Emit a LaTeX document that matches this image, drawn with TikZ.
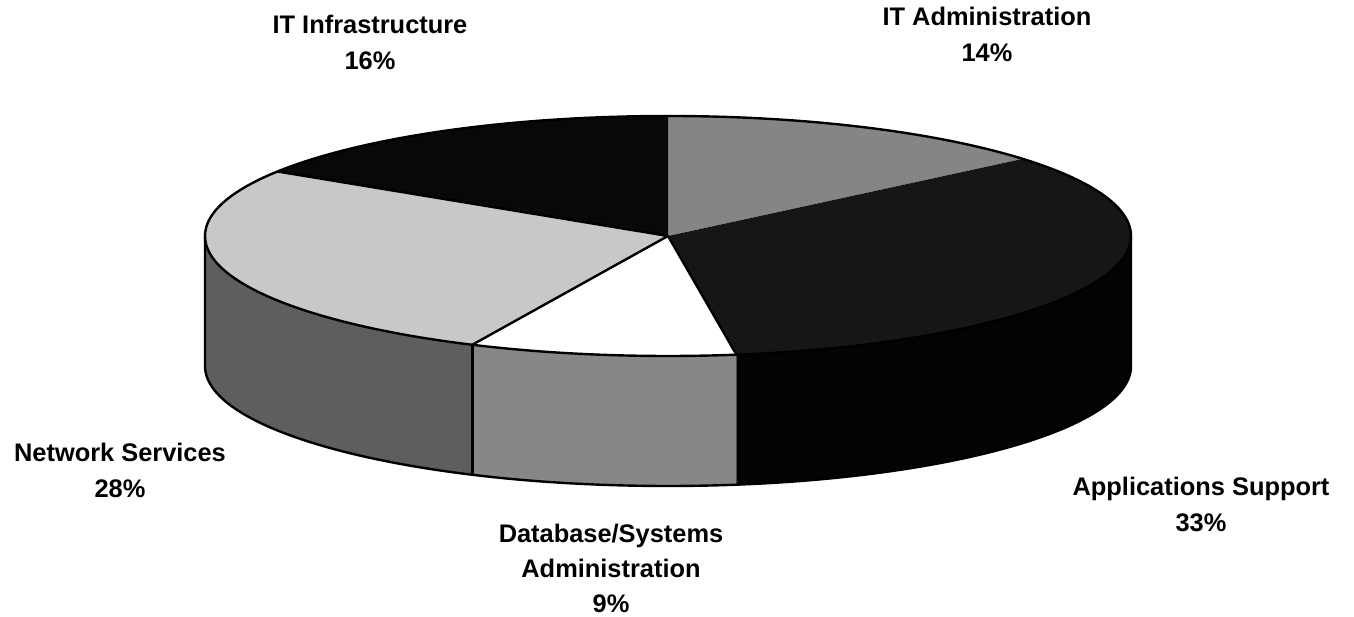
\documentclass[tikz,border=0pt]{standalone}
\usepackage{fontspec}
\setmainfont{Liberation Sans}
\definecolor{adminTop}{HTML}{858585}
\definecolor{appsTop}{HTML}{161616}
\definecolor{appsSide}{HTML}{030303}
\definecolor{dbTop}{HTML}{FFFFFF}
\definecolor{dbSide}{HTML}{878787}
\definecolor{netTop}{HTML}{C8C8C8}
\definecolor{netSide}{HTML}{5E5E5E}
\definecolor{infraTop}{HTML}{080808}
\newcommand\pcx{668}
\newcommand\pcy{381}
\newcommand\pra{463}
\newcommand\prb{120}
\newcommand\pdh{130}
\newcommand\pieside[3]{%
  \fill[#3] ({\pcx+\pra*cos(#1)},{\pcy+\prb*sin(#1)})
    arc[start angle=#1,end angle=#2,x radius=\pra,y radius=\prb]
    -- ++(0,-\pdh)
    arc[start angle=#2,end angle=#1,x radius=\pra,y radius=\prb] -- cycle;}
\newcommand\pietop[3]{%
  \fill[#3] (\pcx,\pcy) -- ({\pcx+\pra*cos(#1)},{\pcy+\prb*sin(#1)})
    arc[start angle=#1,end angle=#2,x radius=\pra,y radius=\prb] -- cycle;}
\begin{document}
\begin{tikzpicture}[x=1pt,y=1pt,
  lbl/.style={font=\fontsize{25.4}{36}\selectfont\bfseries, align=center, inner sep=0pt, anchor=north},
  edge/.style={draw=black, line width=2.4pt, line join=round}]
\useasboundingbox (0,0) rectangle (1354,617);
% side faces
\pieside{-180}{-115}{netSide}
\pieside{-115}{-81.5}{dbSide}
\pieside{-81.5}{0}{appsSide}
% top faces
\pietop{40}{90}{adminTop}
\pietop{-81.5}{40}{appsTop}
\pietop{-115}{-81.5}{dbTop}
\pietop{-212.5}{-115}{netTop}
\pietop{90}{147.5}{infraTop}
% outlines
\draw[edge] (\pcx,\pcy) ellipse[x radius=\pra,y radius=\prb];
\draw[edge] ({\pcx-\pra},\pcy) -- ++(0,-\pdh)
  arc[start angle=180,end angle=360,x radius=\pra,y radius=\prb] -- ++(0,\pdh);
\draw[edge] ({\pcx+\pra*cos(-115)},{\pcy+\prb*sin(-115)}) -- ++(0,-\pdh);
\draw[edge] ({\pcx+\pra*cos(-115)},{\pcy+\prb*sin(-115)}) -- (\pcx,\pcy)
  -- ({\pcx+\pra*cos(-212.5)},{\pcy+\prb*sin(-212.5)});
\draw[edge] (\pcx,\pcy) -- ({\pcx+\pra*cos(-81.5)},{\pcy+\prb*sin(-81.5)});
% labels
\node[lbl] (infra) at (370,602) {IT Infrastructure\\16\%};
\node[lbl] (admin) at (987,610) {IT Administration\\14\%};
\node[lbl] (net) at (120,174) {Network Services\\28\%};
\node[lbl] (apps) at (1201,140) {Applications Support\\33\%};
\node[lbl, font=\fontsize{25.4}{35}\selectfont\bfseries] (db) at (611,93) {Database/Systems\\Administration\\9\%};
\end{tikzpicture}
\end{document}
